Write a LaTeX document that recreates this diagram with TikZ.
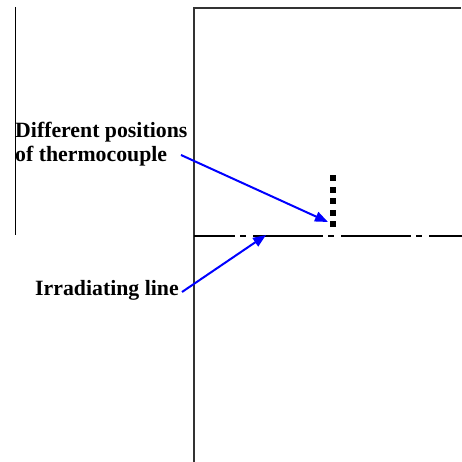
\documentclass[tikz,border=0pt]{standalone}
\usepackage{fontspec}
\setmainfont{Liberation Serif}
\usetikzlibrary{arrows.meta}
\begin{document}
\begin{tikzpicture}[x=1pt,y=-1pt,
  lbl/.style={font=\fontsize{21.8}{24}\selectfont\bfseries, inner sep=0pt, anchor=base west},
  axis/.style={line width=1.4pt, draw=black!80},
  pointer/.style={blue, line width=2pt, -{Triangle[length=13pt,width=10pt]}},
  tcdot/.style={fill=black, minimum size=6pt, inner sep=0pt, draw=none, rectangle}]
\useasboundingbox (0,0) rectangle (462,462);
\fill[white] (0,0) rectangle (462,462);
% thin left line
\draw[line width=1pt] (15,7) -- (15,235);
% box lines
\draw[axis] (194,462) -- (194,8) -- (461,8);
% dash-dot irradiating line
\draw[line width=1.2pt, dash pattern=on 70pt off 5pt on 6pt off 7pt, dash phase=29pt] (194,236) -- (462,236);
% thermocouple positions
\foreach \y [count=\i] in {178,189.5,201,212.5,224} \node[tcdot] (d\i) at (333,\y) {};
% labels
\node[lbl] (l1) at (15,138) {Different positions};
\node[lbl] (l2) at (15,162) {of thermocouple};
\node[lbl] (l3) at (35,295) {Irradiating line};
\coordinate (a1) at (181,155);
\coordinate (t1) at (328,222);
\coordinate (a2) at (182,292);
\coordinate (t2) at (266,235);
\draw[pointer] (a1) -- (t1);
\draw[pointer] (a2) -- (t2);
\end{tikzpicture}
\end{document}
